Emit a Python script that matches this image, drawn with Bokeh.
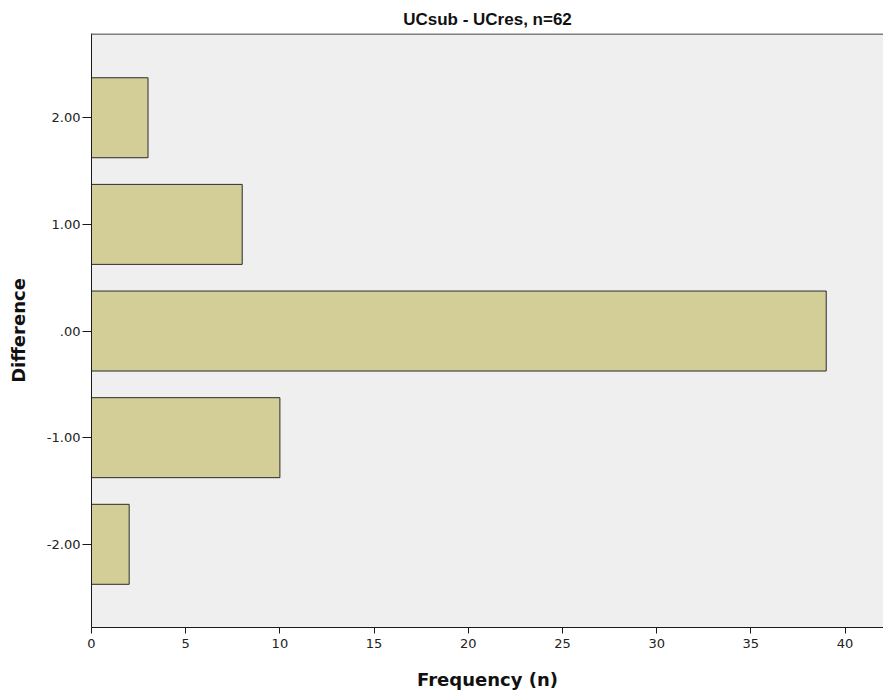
from bokeh.plotting import figure
from bokeh.models import Range1d, FixedTicker, ColumnDataSource, Span
from bokeh.embed import file_html
from bokeh.resources import INLINE

# Data
differences = [-2.0, -1.0, 0.0, 1.0, 2.0]
frequencies = [2, 10, 39, 8, 3]
y_tick_values = [-2, -1, 0, 1, 2]
y_tick_labels = ["-2.00", "-1.00", ".00", "1.00", "2.00"]
x_tick_values = [0, 5, 10, 15, 20, 25, 30, 35, 40]
title_text = "UCsub - UCres, n=62"

TITLE_FONT = "Liberation Sans"
LABEL_FONT = "DejaVu Sans"

p = figure(width=883, height=696, output_backend="svg", toolbar_location=None,
           x_range=Range1d(0, 42.04), y_range=Range1d(-2.78, 2.79),
           min_border_left=91, min_border_right=0, min_border_top=33,
           min_border_bottom=69)

p.title.text = title_text
p.title.align = "center"
p.title.text_font = TITLE_FONT
p.title.text_font_size = "17px"
p.title.text_font_style = "bold"
p.title.text_color = "#111111"

p.background_fill_color = "#EFEFEF"
p.border_fill_color = "white"
p.outline_line_color = None
p.grid.visible = False

src = ColumnDataSource(dict(y=differences, right=frequencies))
p.hbar(y="y", right="right", left=0, height=0.75, source=src,
       fill_color="#D3CE97", line_color="#2b2b2b", line_width=1)

# top frame border
p.add_layout(Span(location=2.79, dimension="width", line_color="#808080", line_width=3))

# axes styling
p.yaxis.ticker = FixedTicker(ticks=y_tick_values)
p.yaxis.major_label_overrides = {v: l for v, l in zip(y_tick_values, y_tick_labels)}
p.xaxis.ticker = FixedTicker(ticks=x_tick_values)

for ax in (p.xaxis[0], p.yaxis[0]):
    ax.axis_line_color = "#1a1a1a"
    ax.axis_line_width = 1
    ax.major_tick_line_color = "#1a1a1a"
    ax.major_tick_line_width = 1
    ax.major_tick_in = 0
    ax.minor_tick_line_color = None
    ax.major_label_text_font = LABEL_FONT
    ax.major_label_text_font_size = "13px"
    ax.major_label_text_color = "#222222"
    ax.axis_label_text_font = LABEL_FONT
    ax.axis_label_text_font_size = "18px"
    ax.axis_label_text_font_style = "bold"
    ax.axis_label_text_color = "#111111"

p.xaxis.major_tick_out = 6
p.yaxis.major_tick_out = 9
p.xaxis.major_label_standoff = 5
p.yaxis.major_label_standoff = 2
p.xaxis.axis_label = "Frequency (n)"
p.yaxis.axis_label = "Difference"
p.xaxis.axis_label_standoff = 18
p.yaxis.axis_label_standoff = 15

open("out.html", "w").write(file_html(p, INLINE))
